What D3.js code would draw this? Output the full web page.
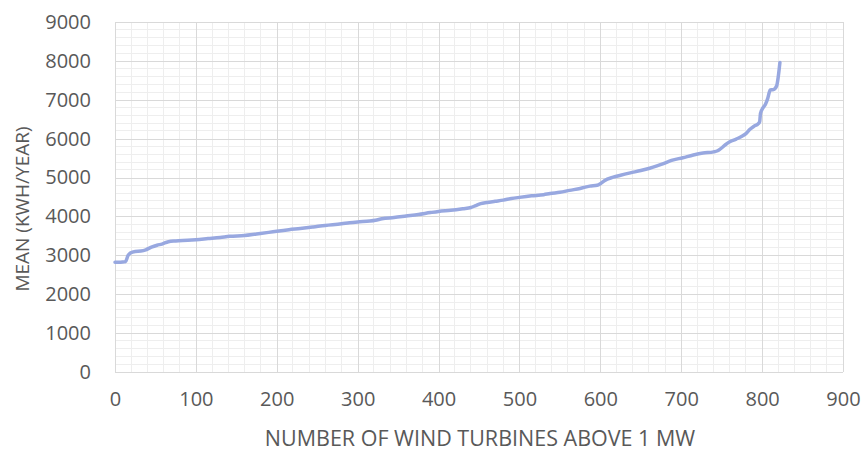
<!DOCTYPE html>
<html>
<head>
<meta charset="utf-8">
<script src="https://cdn.jsdelivr.net/npm/d3@7"></script>
<style>
  html, body { margin: 0; padding: 0; background: #fff; }
  svg { display: block; }
  text { font-family: "Open Sans", sans-serif; fill: #595959; }
</style>
</head>
<body>
<svg id="chart" width="864" height="452"></svg>
<script>
// Data (turbine rank vs mean kWh/year)
const turbineIndex = [0, 5, 10, 13, 16, 19, 25, 32, 38, 45, 52, 58, 66, 75, 90, 100, 115, 130, 142, 160, 175, 190, 200, 215, 229, 245, 260, 280, 290, 300, 315, 322, 330, 345, 360, 375, 390, 400, 415, 430, 440, 446, 452, 460, 470, 480, 490, 500, 515, 530, 538, 550, 562, 575, 587, 596, 600, 605, 616, 625, 637, 650, 661, 670, 678, 688, 702, 715, 727, 740, 745, 748, 755, 760, 768, 775, 780, 785, 790, 795, 797, 798, 801, 804, 807, 809, 810, 814, 818, 820, 822];
const meanValues   = [2820, 2820, 2830, 2840, 2990, 3060, 3100, 3110, 3140, 3210, 3260, 3290, 3350, 3370, 3385, 3400, 3430, 3460, 3490, 3510, 3550, 3590, 3620, 3660, 3690, 3730, 3770, 3810, 3840, 3860, 3880, 3900, 3940, 3970, 4010, 4050, 4100, 4130, 4160, 4200, 4230, 4280, 4330, 4360, 4390, 4420, 4460, 4490, 4530, 4560, 4590, 4620, 4670, 4720, 4780, 4800, 4840, 4920, 5010, 5060, 5120, 5180, 5240, 5300, 5360, 5440, 5510, 5580, 5630, 5660, 5690, 5730, 5850, 5920, 5990, 6060, 6130, 6240, 6320, 6380, 6440, 6650, 6790, 6880, 7040, 7200, 7250, 7260, 7360, 7600, 7960];

const xTicks = [0, 100, 200, 300, 400, 500, 600, 700, 800, 900];
const yTicks = [0, 1000, 2000, 3000, 4000, 5000, 6000, 7000, 8000, 9000];
const xTitle = "NUMBER OF WIND TURBINES ABOVE 1 MW";
const yTitle = "MEAN (KWH/YEAR)";

const data = turbineIndex.map((n, i) => ({ n, v: meanValues[i] }));

const svg = d3.select("#chart");
const pLeft = 115, pRight = 843, pTop = 22, pBottom = 372;

const x = d3.scaleLinear().domain([0, 900]).range([pLeft, pRight]);
const y = d3.scaleLinear().domain([0, 9000]).range([pBottom, pTop]);

// minor gridlines
const g = svg.append("g");
g.selectAll("line.vminor").data(d3.range(0, 901, 20).filter(d => d % 100 !== 0))
  .join("line").attr("x1", d => x(d)).attr("x2", d => x(d))
  .attr("y1", pTop).attr("y2", pBottom)
  .attr("stroke", "#eeeeee").attr("stroke-width", 1).attr("shape-rendering", "crispEdges");
g.selectAll("line.hminor").data(d3.range(0, 9001, 200).filter(d => d % 1000 !== 0))
  .join("line").attr("y1", d => y(d)).attr("y2", d => y(d))
  .attr("x1", pLeft).attr("x2", pRight)
  .attr("stroke", "#eeeeee").attr("stroke-width", 1).attr("shape-rendering", "crispEdges");

// major gridlines via axes
svg.append("g").attr("transform", `translate(0,${pBottom})`)
  .call(d3.axisBottom(x).tickValues(xTicks).tickSize(-(pBottom - pTop)).tickPadding(20).tickFormat(d3.format("d")))
  .call(a => a.select(".domain").remove())
  .call(a => a.selectAll("line").attr("stroke", "#d9d9d9").attr("shape-rendering", "crispEdges"))
  .call(a => a.selectAll("text").attr("font-size", 20).style("fill", "#595959"));

svg.append("g").attr("transform", `translate(${pLeft},0)`)
  .call(d3.axisLeft(y).tickValues(yTicks).tickSize(-(pRight - pLeft)).tickPadding(24).tickFormat(d3.format("d")))
  .call(a => a.select(".domain").remove())
  .call(a => a.selectAll("line").attr("stroke", "#d9d9d9").attr("shape-rendering", "crispEdges"))
  .call(a => a.selectAll("text").attr("font-size", 20).style("fill", "#595959"));

svg.selectAll("g.tick text").attr("font-family", "Open Sans, sans-serif");

// line
const line = d3.line().x(d => x(d.n)).y(d => y(d.v)).curve(d3.curveMonotoneX);
svg.append("path").datum(data)
  .attr("d", line)
  .attr("fill", "none")
  .attr("stroke", "#98a8e0")
  .attr("stroke-width", 3.5)
  .attr("stroke-linejoin", "round")
  .attr("stroke-linecap", "round");

// titles
svg.append("text").attr("x", 480).attr("y", 446)
  .attr("text-anchor", "middle").attr("font-size", 21.5).text(xTitle);
svg.append("text").attr("transform", `translate(29,${(pTop + pBottom) / 2 + 12}) rotate(-90)`)
  .attr("text-anchor", "middle").attr("font-size", 19).text(yTitle);
</script>
</body>
</html>
